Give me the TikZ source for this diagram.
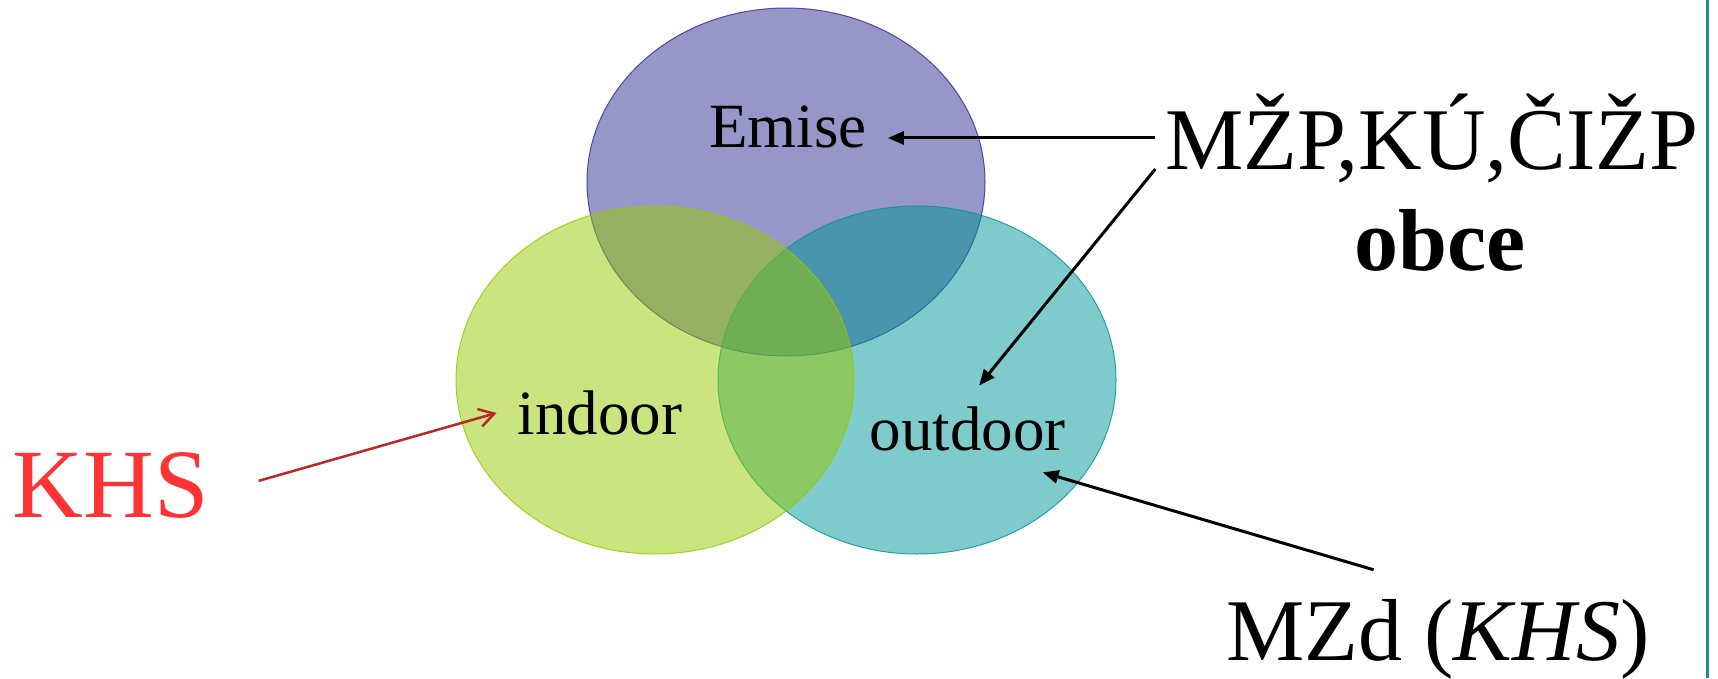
\documentclass[tikz,border=0pt]{standalone}
\usepackage{fontspec}
\setmainfont{Liberation Serif}
\usetikzlibrary{shapes.geometric, positioning, arrows.meta}

\definecolor{emisec}{RGB}{45,45,145}
\definecolor{indoorc}{RGB}{149,201,0}
\definecolor{outdoorc}{RGB}{0,149,149}
\definecolor{khsc}{RGB}{255,51,51}
\definecolor{khsarr}{RGB}{185,40,40}
\definecolor{okraj}{RGB}{40,140,140}

\tikzset{
	kruh/.style={ellipse, minimum width=398pt, minimum height=348pt, inner sep=0pt,
		fill=#1, fill opacity=0.5, draw=#1, draw opacity=0.8, line width=1pt},
	stred/.style={anchor=base, inner sep=21pt, font=\fontsize{63}{70}\selectfont},
	velky/.style={anchor=base, inner sep=29pt, font=\fontsize{88}{100}\selectfont},
}

\begin{document}
\begin{tikzpicture}[x=1pt, y=-1pt]
	\useasboundingbox (0,0) rectangle (1718,678);
	\draw[okraj, line width=2.5pt] (1707.5,0) -- (1707.5,678);

	% kruhy
	\node[kruh=emisec] (ce) at (786,182) {};
	\node[kruh=outdoorc] (co) at (917,380) {};
	\node[kruh=indoorc] (ci) at (655,380) {};

	\node[stred] (emise) at (788,147) {Emise};
	\node[stred] (indoor) at (600,434.5) {indoor};
	\node[stred] (outdoor) at (967.5,450.5) {outdoor};

	\node[anchor=base, inner sep=33pt, text=khsc, font=\fontsize{98}{110}\selectfont] (khs) at (111,517.5) {KHS};
	\node[velky, inner sep=10pt] (mzp) at (1432,169) {MŽP,KÚ,ČIŽP};
	\node[velky, font=\fontsize{88}{100}\selectfont\bfseries] (obce) at (1440,270) {obce};
	\node[velky] (mzd) at (1438,660) {MZd (\textit{KHS})};

	\path [-{Triangle[length=16pt,width=13pt]}, line width=3pt]
		(mzp.west) edge (mzp.west -| emise.east)
		(mzp.base west) edge (outdoor.75)
		(mzd.133) edge (outdoor.-30)
		;
	\path [-{Straight Barb[length=15pt,width=18pt]}, line width=2.5pt, khsarr]
		(khs.east) edge[shorten <=17pt] (indoor.west);
\end{tikzpicture}
\end{document}
